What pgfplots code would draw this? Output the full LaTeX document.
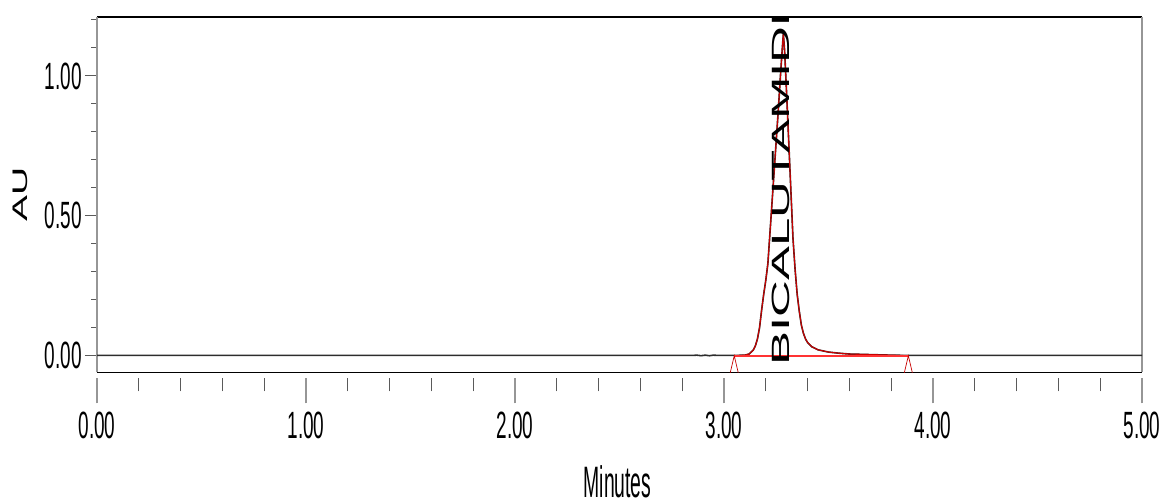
\documentclass[border=0pt]{standalone}
\usepackage{graphicx}
\usepackage{fontspec}
\setmainfont{Liberation Sans}[FakeStretch=0.5]
\newfontfamily\minfont{Liberation Sans}[FakeStretch=0.44]
\newfontfamily\plainfont{Liberation Sans}
\usepackage{pgfplots}
\pgfplotsset{compat=1.18}
\definecolor{sig}{RGB}{45,45,45}
\definecolor{pk}{RGB}{200,0,0}
\definecolor{bl}{RGB}{255,50,50}
\definecolor{axgray}{RGB}{150,150,150}
\definecolor{tickgray}{RGB}{90,90,90}
\pgfdeclareplotmark{apex}{%
  \pgfpathmoveto{\pgfpoint{-4pt}{-17pt}}%
  \pgfpathlineto{\pgfpoint{0pt}{0pt}}%
  \pgfpathlineto{\pgfpoint{4pt}{-17pt}}%
  \pgfusepathqstroke}
\begin{document}
\begin{tikzpicture}
\useasboundingbox (0,0) rectangle (1162pt,503pt);
% tick axis (x ticks set 6pt below the axis line)
\begin{axis}[
  at={(97pt,124.5pt)}, anchor=south west,
  scale only axis, width=1045pt, height=355.5pt,
  xmin=0, xmax=5, ymin=0, ymax=1,
  axis y line=none, axis x line=bottom,
  x axis line style={draw=none},
  xtick={0,1,2,3,4,5},
  xticklabels={0.00,1.00,2.00,3.00,4.00,5.00},
  minor x tick num=4,
  tick align=outside,
  major tick length=25pt, minor tick length=13pt,
  tick style={tickgray, line width=1pt},
  major x tick style={axgray, line width=1.3pt},
  xticklabel style={anchor=north, inner sep=0pt, font=\fontsize{38}{38}\selectfont, yshift=-8pt},
]
\end{axis}
\begin{axis}[
  at={(97pt,130.5pt)}, anchor=south west,
  scale only axis, width=1045pt, height=355.5pt,
  xmin=0, xmax=5, ymin=-0.06, ymax=1.2107,
  xtick=\empty,
  ytick={0,0.5,1},
  yticklabels={0.00,0.50,1.00},
  minor ytick={0.1,0.2,0.3,0.4,0.6,0.7,0.8,0.9,1.1,1.2},
  ytick pos=left,
  tick align=outside,
  major tick length=12pt, minor tick length=6pt,
  tick style={tickgray, line width=1pt},
  separate axis lines,
  x axis line style={black, line width=1.4pt},
  y axis line style={axgray, line width=1.3pt},
  yticklabel style={anchor=east, inner sep=0pt, xshift=-3pt, font=\fontsize{38}{38}\selectfont},
  xlabel={\minfont\fontsize{44}{44}\selectfont Minutes},
  every axis x label/.style={at={(rel axis cs:0.5,0)}, anchor=base, yshift=-125pt, xshift=-2pt},
  ylabel={\plainfont\fontsize{39}{39}\selectfont\scalebox{1}[0.54]{AU}},
  every axis y label/.style={at={(rel axis cs:0,0.5)}, xshift=-76.5pt, anchor=center, rotate=90},
]
% full detector signal (black)
\addplot[sig, line width=1.6pt] coordinates {
(0.00,0.001) (0.50,0.001) (1.00,0.001) (1.50,0.0012) (2.00,0.001) (2.50,0.001)
(2.85,0.001) (2.87,0.002) (2.89,0.000) (2.91,0.002) (2.93,0.000) (2.95,0.002) (2.97,0.001)
(3.05,0.001) (3.10,0.002) (3.12,0.006) (3.14,0.02) (3.15,0.035) (3.16,0.06) (3.17,0.10)
(3.18,0.163) (3.19,0.22) (3.20,0.27) (3.21,0.33) (3.22,0.44) (3.23,0.55) (3.24,0.66)
(3.25,0.77) (3.26,0.88) (3.27,1.00) (3.28,1.11) (3.284,1.151) (3.29,1.09) (3.30,0.93)
(3.31,0.76) (3.32,0.59) (3.33,0.42) (3.34,0.31) (3.35,0.22) (3.36,0.16) (3.37,0.11)
(3.38,0.08) (3.39,0.06) (3.40,0.047) (3.42,0.032) (3.45,0.021) (3.50,0.013) (3.55,0.009)
(3.60,0.006) (3.70,0.004) (3.80,0.002) (3.88,0.001) (4.00,0.001) (4.50,0.001) (5.00,0.001)
};
% integrated peak (red)
\addplot[pk, line width=1.1pt] coordinates {
(3.049,0.000) (3.10,0.002) (3.12,0.006) (3.14,0.02) (3.15,0.035) (3.16,0.06) (3.17,0.10)
(3.18,0.163) (3.19,0.22) (3.20,0.27) (3.21,0.33) (3.22,0.44) (3.23,0.55) (3.24,0.66)
(3.25,0.77) (3.26,0.88) (3.27,1.00) (3.28,1.11) (3.284,1.151) (3.29,1.09) (3.30,0.93)
(3.31,0.76) (3.32,0.59) (3.33,0.42) (3.34,0.31) (3.35,0.22) (3.36,0.16) (3.37,0.11)
(3.38,0.08) (3.39,0.06) (3.40,0.047) (3.42,0.032) (3.45,0.021) (3.50,0.013) (3.55,0.009)
(3.60,0.006) (3.70,0.004) (3.80,0.002) (3.882,0.000)
};
% peak baseline with start/end markers
\addplot[bl, line width=1.6pt, mark=apex, mark options={solid, pk, line width=0.7pt}] coordinates {
(3.049,0.000) (3.882,0.000)
};
\node[rotate=90, anchor=base west, inner sep=0pt, font=\plainfont\fontsize{51}{51}\selectfont]
  at (axis cs:3.312,-0.036) {\scalebox{1}[0.49]{BICALUTAMIDE}};
\end{axis}
\end{tikzpicture}
\end{document}
